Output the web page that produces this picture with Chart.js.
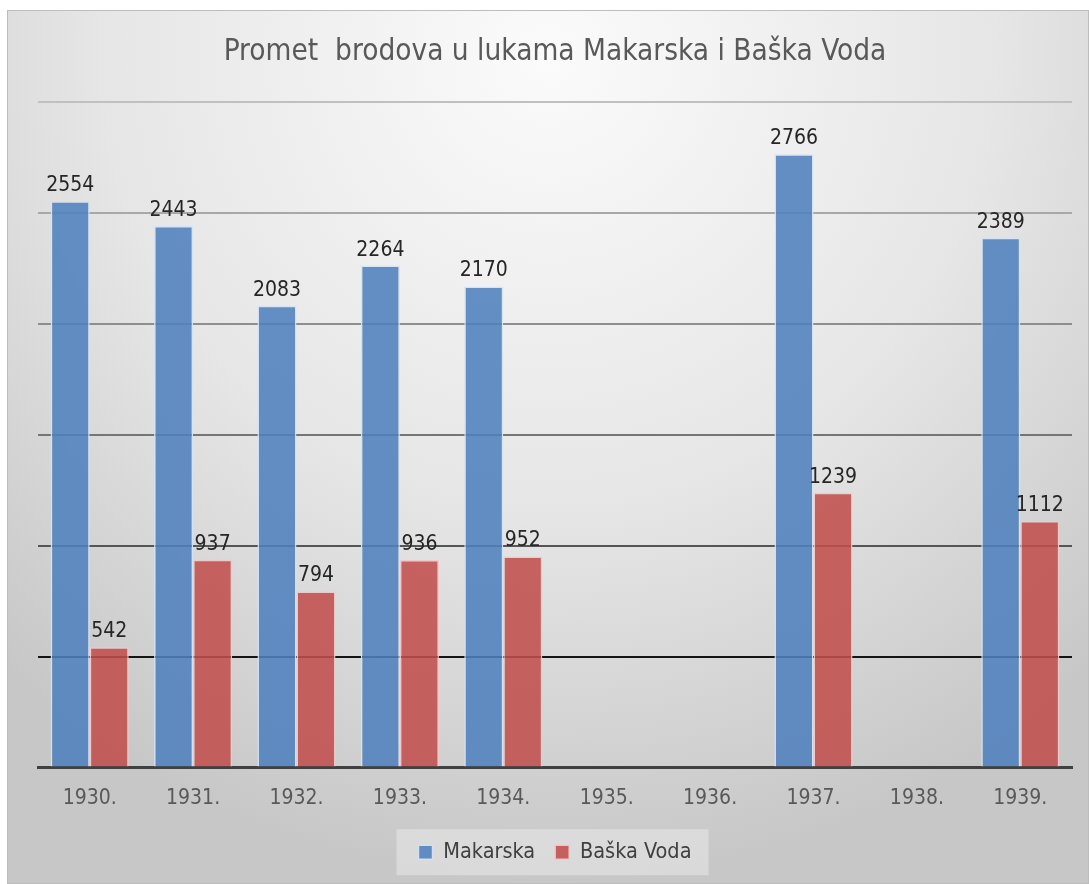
<!DOCTYPE html>
<html lang="hr">
<head>
<meta charset="utf-8">
<title>Promet brodova u lukama Makarska i Baška Voda</title>
<script src="https://cdn.jsdelivr.net/npm/chart.js@4.4.0/dist/chart.umd.min.js"></script>
<style>
  body {
    margin: 0;
    background: #ffffff;
  }
  #okvir {
    position: absolute;
    left: 7px;
    top: 10px;
    width: 1082px;
    height: 874px;
    box-sizing: border-box;
    border: 1px solid #bdbdbd;
    background: radial-gradient(ellipse 75% 95% at 50% 5%, #fbfbfb 0%, #e6e6e6 55%, #c7c7c7 100%);
  }
  canvas {
    display: block;
  }
</style>
</head>
<body>
<div id="okvir">
  <canvas id="chartPromet" width="1080" height="872"></canvas>
</div>
<script>
// Podaci očitani sa slike
const godine = ["1930.", "1931.", "1932.", "1933.", "1934.", "1935.", "1936.", "1937.", "1938.", "1939."];
const makarska = [2554, 2443, 2083, 2264, 2170, null, null, 2766, null, 2389];
const baskaVoda = [542, 937, 794, 936, 952, null, null, 1239, null, 1112];

const FONT = "'Liberation Sans Narrow', 'DejaVu Sans Condensed', 'Liberation Sans', sans-serif";

// Boje linija mreže - donje tamnije, gornje svjetlije
const bojeMreze = {
  0: "#404040",
  500: "#141414",
  1000: "#555555",
  1500: "#757575",
  2000: "#8e8e8e",
  2500: "#a8a8a8",
  3000: "#c0c0c0",
};

// Plugin koji ispisuje vrijednosti iznad stupaca
const oznakeStupaca = {
  id: "oznakeStupaca",
  afterDatasetsDraw(chart) {
    const ctx = chart.ctx;
    ctx.save();
    ctx.font = "21px " + FONT;
    ctx.fillStyle = "#262626";
    ctx.textAlign = "center";
    ctx.textBaseline = "alphabetic";
    chart.data.datasets.forEach((ds, i) => {
      const meta = chart.getDatasetMeta(i);
      meta.data.forEach((bar, j) => {
        if (ds.data[j] === null) return;
        ctx.fillText(ds.data[j], bar.x, bar.y - 10);
      });
    });
    ctx.restore();
  },
};

// Plugin za pozadinu legende
const pozadinaLegende = {
  id: "pozadinaLegende",
  beforeDraw(chart) {
    const boxes = chart.legend && chart.legend.legendHitBoxes;
    if (!boxes || boxes.length === 0) return;
    const prvi = boxes[0];
    const zadnji = boxes[boxes.length - 1];
    const x0 = prvi.left - 22;
    const x1 = zadnji.left + zadnji.width + 17;
    const yc = prvi.top + prvi.height / 2;
    const ctx = chart.ctx;
    ctx.save();
    ctx.fillStyle = "rgba(240, 240, 240, 0.45)";
    ctx.fillRect(x0, yc - 23, x1 - x0, 46);
    ctx.restore();
  },
};

function nacrtajGrafikon() {
  const ctx = document.getElementById("chartPromet").getContext("2d");
  new Chart(ctx, {
    type: "bar",
    data: {
      labels: godine,
      datasets: [
        {
          label: "Makarska",
          data: makarska,
          backgroundColor: "rgba(79, 129, 189, 0.88)",
          borderColor: "rgba(214, 226, 242, 0.95)",
          borderWidth: 1.5,
          categoryPercentage: 0.755,
          barPercentage: 1,
        },
        {
          label: "Baška Voda",
          data: baskaVoda,
          backgroundColor: "rgba(192, 80, 77, 0.88)",
          borderColor: "rgba(240, 200, 200, 0.95)",
          borderWidth: 1.5,
          categoryPercentage: 0.755,
          barPercentage: 1,
        },
      ],
    },
    options: {
      responsive: false,
      animation: false,
      layout: {
        padding: { left: 30, right: 16, top: 0, bottom: 10 },
      },
      scales: {
        x: {
          grid: { display: false, drawTicks: false },
          border: { display: true, color: "#404040", width: 3 },
          ticks: {
            color: "#595959",
            font: { family: FONT, size: 21 },
            padding: 18,
          },
          afterFit(scale) {
            scale.height = 54;
          },
        },
        y: {
          min: 0,
          max: 3000,
          ticks: { display: false, stepSize: 500 },
          border: { display: false },
          grid: {
            drawTicks: false,
            lineWidth: 2,
            color: (c) => bojeMreze[c.tick.value] || "#999999",
          },
        },
      },
      plugins: {
        title: {
          display: true,
          text: "Promet  brodova u lukama Makarska i Baška Voda",
          color: "#595959",
          font: { family: FONT, size: 29.5, weight: "normal" },
          padding: { top: 24, bottom: 32 },
        },
        legend: {
          position: "bottom",
          labels: {
            color: "#404040",
            font: { family: FONT, size: 21.5 },
            boxWidth: 14,
            boxHeight: 14,
            padding: 20,
          },
        },
        tooltip: { enabled: false },
      },
    },
    plugins: [oznakeStupaca, pozadinaLegende],
  });
}

document.addEventListener("DOMContentLoaded", nacrtajGrafikon);
</script>
</body>
</html>
